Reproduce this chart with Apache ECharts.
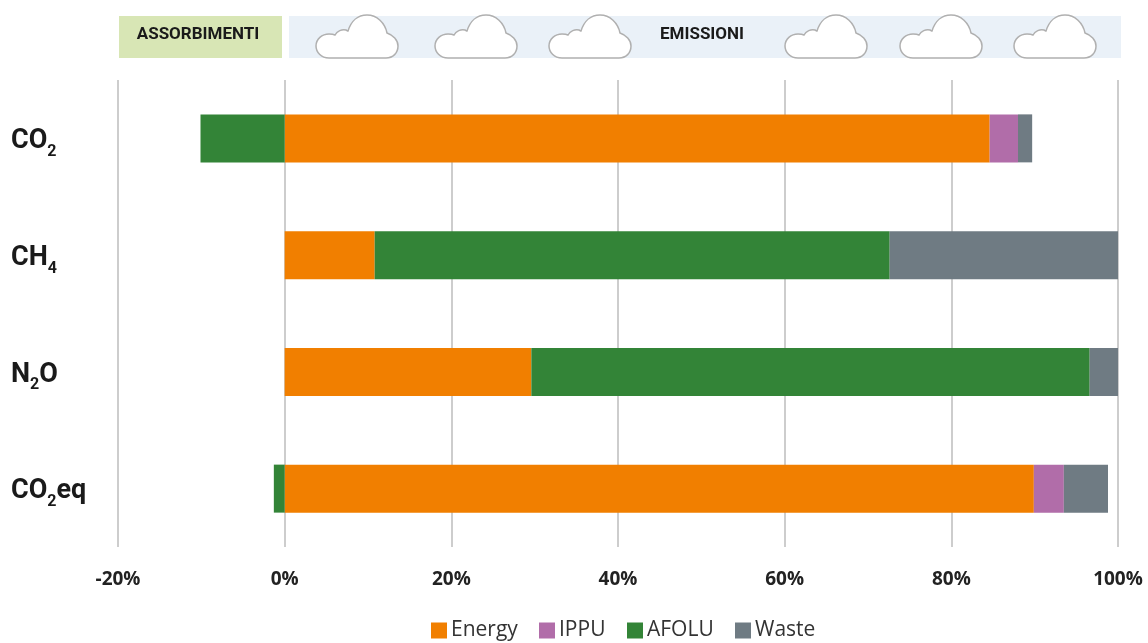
<!DOCTYPE html>
<html><head><meta charset="utf-8">
<style>html,body{margin:0;padding:0;background:#fff}#c{width:1148px;height:643px}</style>
<script src="https://cdn.jsdelivr.net/npm/echarts@6/dist/echarts.min.js"></script>
</head><body><div id="c"></div>
<script>
const categories = ['CO2','CH4','N2O','CO2eq'];
const seriesNames = ['Energy','IPPU','AFOLU','Waste'];
const energy = [84.6, 10.8, 29.6, 89.9];
const ippu = [3.4, 0, 0, 3.6];
const afolu = [-10.1, 61.8, 67.0, -1.3];
const waste = [1.7, 27.4, 3.4, 5.3];
const colors = {Energy:'#F17F00', IPPU:'#B16DA9', AFOLU:'#338437', Waste:'#6F7B83'};
const legendX = [431,539,627,735];
const cloudX = [316,435,549,785,900,1014];
const cloudPath = 'M13 43 C5 43 0 37 0 31 C0 24 6 19 13 19 C15 19 17 19 19 20 C21 16 26 14 30 15 C31 15.500 31.500 16 32 16 C35 6 42 0 51 0 C61 0 69 8 71 18 C77 20 82 25 82 31 C82 38 77 43 70 43 Z';
const catLabels = {CO2:'{m|CO}{s|2}',CH4:'{m|CH}{s|4}',N2O:'{m|N}{s|2}{m|O}',CO2eq:'{m|CO}{s|2}{m|eq}'};
const fam = 'Roboto,sans-serif';
echarts.graphic.registerShape('cloud', echarts.graphic.extendPath(cloudPath, {}));
const chart = echarts.init(document.getElementById('c'),null,{renderer:'canvas'});
const mk = (name,data)=>({name,type:'bar',stack:'t',data,barWidth:48,itemStyle:{color:colors[name]}});
chart.setOption({
  animation:false,
  grid:{left:118,right:30,top:80,bottom:96,containLabel:false},
  legend:seriesNames.map((n,i)=>({left:legendX[i],top:620,padding:0,itemWidth:16,itemHeight:16,icon:'rect',
    textStyle:{fontFamily:'"Open Sans",sans-serif',fontSize:21,color:'#333',padding:[7,0,0,-1]},
    data:[n]})),
  xAxis:{type:'value',min:-20,max:100,interval:20,
    axisLine:{show:false},axisTick:{show:false},
    splitLine:{show:true,lineStyle:{color:'#bdbdbd',width:1.5}},
    axisLabel:{formatter:'{value}%',margin:23,fontFamily:'"Open Sans",sans-serif',fontWeight:'bold',fontSize:19,color:'#222'}},
  yAxis:{type:'category',inverse:true,data:categories,
    axisLine:{show:false},axisTick:{show:false},
    axisLabel:{margin:107,align:'left',padding:[6,0,0,0],formatter:v=>catLabels[v],
      rich:{m:{fontFamily:fam,fontWeight:'bold',fontSize:27,color:'#1a1a1a',verticalAlign:'bottom'},
            s:{fontFamily:fam,fontWeight:'bold',fontSize:16,color:'#1a1a1a',verticalAlign:'bottom',padding:[0,0,-5,0]}}}},
  series:[mk('Energy',energy),mk('IPPU',ippu),mk('AFOLU',afolu),mk('Waste',waste)],
  graphic:[
    {type:'rect',shape:{x:119,y:16,width:163,height:42},style:{fill:'#D8E6B5'},z:0},
    {type:'rect',shape:{x:289,y:16,width:832,height:42},style:{fill:'#EAF1F8'},z:0},
    {type:'text',x:198,y:35,style:{text:'ASSORBIMENTI',fill:'#1a1a1a',align:'center',verticalAlign:'middle',font:'bold 17px Roboto'},z:2},
    {type:'text',x:702,y:35,style:{text:'EMISSIONI',fill:'#1a1a1a',align:'center',verticalAlign:'middle',font:'bold 17px Roboto'},z:2},
    ...cloudX.map(x=>({type:'cloud',x,y:15,style:{fill:'#fff',stroke:'#b0b0b0',lineWidth:1.5},z:1}))
  ]
});
</script></body></html>
